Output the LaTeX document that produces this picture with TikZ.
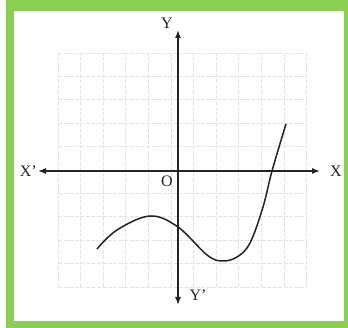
\documentclass[tikz,border=0pt]{standalone}
\usepackage{fontspec}
\setmainfont{Liberation Serif}
\usetikzlibrary{arrows.meta,positioning}
\definecolor{verdeb}{RGB}{139,207,82}
\definecolor{grisc}{RGB}{228,228,228}
\definecolor{tinta}{RGB}{35,35,35}
\tikzset{
  eje/.style={{Latex[length=8pt,width=6pt]}-{Latex[length=8pt,width=6pt]}, line width=1.3pt, tinta},
  rejilla/.style={grisc, line width=0.7pt, dash pattern=on 4pt off 1.5pt},
  curva/.style={line width=1.5pt, tinta},
  etq/.style={font=\fontsize{16}{18}\selectfont, inner sep=0pt, text=tinta},
}
\begin{document}
\begin{tikzpicture}[x=1pt,y=1pt]
  \useasboundingbox (0,0) rectangle (348,328);
  % marco verde
  \fill[verdeb] (6,0) rectangle (348,328);
  \fill[white] (14,7) rectangle (344,317);
  % rejilla
  \foreach \i in {0,...,11} {
    \draw[rejilla] ({58+22.6*\i},41) -- ({58+22.6*\i},275);
  }
  \foreach \j in {0,...,10} {
    \draw[rejilla] (58,{41+23.4*\j}) -- (307,{41+23.4*\j});
  }
  % ejes
  \coordinate (o) at (178,157);
  \coordinate (xi) at (38,157);
  \coordinate (xd) at (320,157);
  \coordinate (ys) at (178,298);
  \coordinate (yi) at (178,23);
  \draw[eje] (xi) -- (xd);
  \draw[eje] (yi) -- (ys);
  \node[etq, left=1pt of xi] (lxi) {X'};
  \node[etq, right=10pt of xd] (lxd) {X};
  \node[etq] (lys) at (167,305) {Y};
  \node[etq] (lyi) at (198,33) {Y'};
  \node[etq] (lo) at (167,147) {O};
  % curva
  \draw[curva] plot[smooth, tension=0.6] coordinates {
    (97,79) (117,98) (150,112) (178,101) (207,73) (222,67)
    (237,71) (250,85) (263,121) (272,157) (286,204)};
\end{tikzpicture}
\end{document}
